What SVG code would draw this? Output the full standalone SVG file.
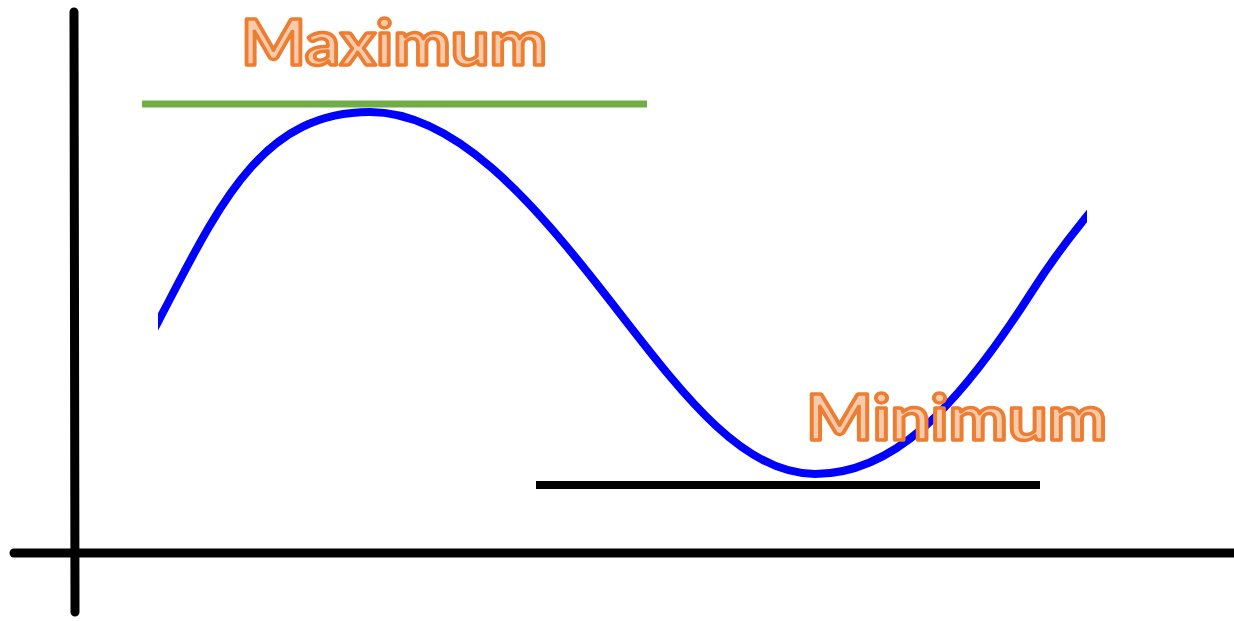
<svg xmlns="http://www.w3.org/2000/svg" width="1234" height="621" viewBox="0 0 1234 621">
  <defs>
    <style>
      .axis { stroke: #000; stroke-width: 9; stroke-linecap: round; fill: none; }
      .label { font-family: Lato, "Open Sans", "Liberation Sans", sans-serif; font-weight: bold; font-size: 63px; fill: #f8cbad; stroke: #ed7d31; stroke-width: 3.5; stroke-linejoin: round; }
    </style>
    <clipPath id="curveClip">
      <rect x="158" y="0" width="929" height="621"/>
    </clipPath>
  </defs>
  <rect width="1234" height="621" fill="#fff"/>
  <g id="axes">
    <line class="axis" x1="74" y1="12" x2="75" y2="612"/>
    <line class="axis" x1="14" y1="553" x2="1240" y2="553"/>
  </g>
  <g id="max-line">
    <line x1="142" y1="104" x2="647" y2="104" stroke="#70ad47" stroke-width="7"/>
  </g>
  <g id="min-line">
    <line x1="536" y1="485" x2="1040" y2="485" stroke="#000" stroke-width="8"/>
  </g>
  <g id="curve" clip-path="url(#curveClip)">
    <path fill="none" stroke="#0000ff" stroke-width="8" d="M150,337 L158,322 C218,207.4 260,112 370,112 C454.7,112 531.5,200.3 604,293 C676.5,385.7 738.6,474 815,474 C891,474 955,412 1031,293 C1060,247.5 1100,196 1140,160"/>
  </g>
  <g id="label-max">
    <text class="label" x="241" y="65" textLength="306" lengthAdjust="spacingAndGlyphs">Maximum</text>
  </g>
  <g id="label-min">
    <text class="label" x="806" y="440" textLength="301" lengthAdjust="spacingAndGlyphs">Minimum</text>
  </g>
</svg>
